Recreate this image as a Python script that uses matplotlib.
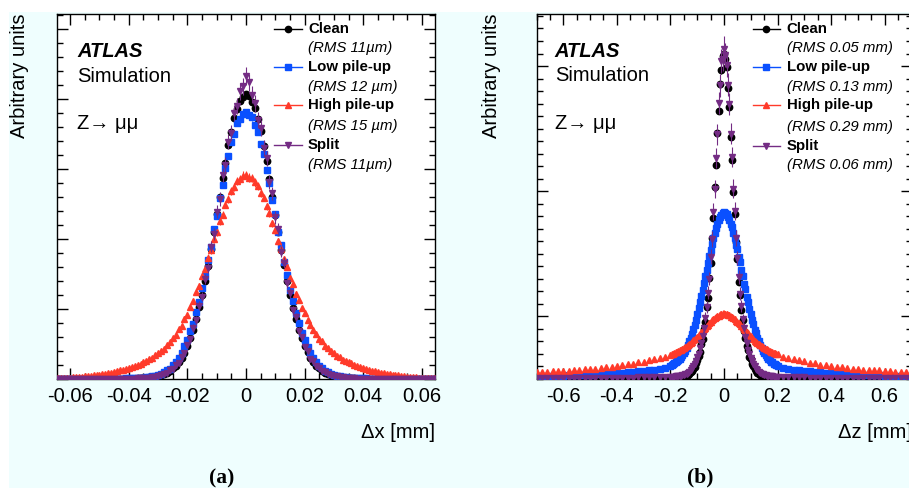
import numpy as np
import matplotlib
matplotlib.use("Agg")
import matplotlib.pyplot as plt
from matplotlib.ticker import MultipleLocator, FixedLocator, NullFormatter
from matplotlib.patches import Rectangle
from matplotlib.lines import Line2D

plt.rcParams['font.family'] = ['Liberation Sans', 'DejaVu Sans']

# ---------------- data: panel (a), bins of 0.001 mm from -0.065 to 0.065 ----------------
dx_lo, dx_hi = -0.065, 0.065

clean_a = [0.001,0.001,0.001,0.001,0.001,0.001,0.001,0.001,0.001,0.001,0.001,0.002,0.001,0.002,0.002,0.002,0.002,0.002,0.002,0.003,0.002,0.003,0.003,0.003,0.004,
           0.004,0.005,0.006,0.008,0.010,0.013,0.017,0.022,0.027,0.035,0.044,0.056,0.071,0.091,0.118,0.151,0.188,0.236,0.301,0.377,
           0.468,0.582,0.707,0.858,1.025,1.196,1.404,1.615,1.857,2.094,2.356,2.597,2.866,3.092,3.338,3.533,3.725,3.852,3.975,4.026,
           4.07,
           4.038,3.962,3.868,3.714,3.547,3.322,3.108,2.852,2.607,2.343,2.106,1.843,1.627,1.396,1.205,1.016,0.864,0.706,0.584,0.466,
           0.382,0.297,0.242,0.188,0.152,0.117,0.092,0.069,0.056,0.042,0.035,0.026,0.021,0.016,0.013,0.010,0.008,0.006,0.005,0.004,
           0.004,0.003,0.003,0.003,0.002,0.003,0.002,0.002,0.002,0.002,0.002,0.001,0.002,0.001,0.001,0.001,0.001,0.001,0.001,0.001,0.001,0.001,0.001,0.001,0.001]

lowpu_a = [0.002,0.002,0.002,0.002,0.002,0.002,0.003,0.002,0.003,0.003,0.003,0.003,0.004,0.003,0.004,0.004,0.005,0.004,0.005,0.005,0.006,0.006,0.007,0.007,0.008,
           0.009,0.011,0.012,0.015,0.017,0.021,0.025,0.032,0.038,0.049,0.059,0.077,0.094,0.123,0.148,0.194,0.237,0.306,0.366,0.468,
           0.553,0.680,0.792,0.962,1.098,1.305,1.466,1.706,1.884,2.138,2.332,2.588,2.771,3.018,3.184,3.388,3.505,3.656,3.718,3.790,
           3.81,
           3.772,3.738,3.628,3.531,3.356,3.212,2.984,2.803,2.553,2.362,2.104,1.912,1.676,1.491,1.277,1.118,0.941,0.806,0.662,0.564,
           0.454,0.374,0.296,0.243,0.187,0.152,0.118,0.096,0.074,0.061,0.047,0.038,0.030,0.025,0.020,0.017,0.014,0.012,0.010,0.009,
           0.008,0.007,0.007,0.006,0.006,0.005,0.005,0.004,0.005,0.004,0.004,0.003,0.004,0.003,0.003,0.003,0.003,0.002,0.003,0.002,0.002,0.002,0.002,0.002,0.002]

highpu_a = [0.012,0.011,0.015,0.016,0.019,0.020,0.024,0.025,0.029,0.032,0.036,0.040,0.045,0.050,0.056,0.061,0.069,0.074,0.083,0.091,0.102,0.110,0.123,0.131,0.144,
            0.157,0.174,0.186,0.205,0.217,0.244,0.256,0.285,0.306,0.345,0.366,0.406,0.435,0.488,0.524,0.589,0.632,0.711,0.762,0.861,
            0.921,1.034,1.108,1.242,1.328,1.474,1.578,1.733,1.838,1.994,2.098,2.253,2.349,2.492,2.571,2.683,2.741,2.831,2.852,2.905,
            2.91,
            2.878,2.872,2.808,2.762,2.655,2.592,2.466,2.372,2.226,2.124,1.966,1.862,1.708,1.602,1.448,1.352,1.218,1.131,1.008,0.939,
            0.842,0.776,0.693,0.646,0.573,0.536,0.474,0.445,0.396,0.374,0.335,0.314,0.276,0.263,0.236,0.222,0.196,0.192,0.166,0.162,
            0.138,0.132,0.117,0.112,0.098,0.092,0.079,0.075,0.066,0.061,0.053,0.050,0.043,0.040,0.034,0.032,0.027,0.026,0.021,0.020,0.017,0.016,0.013,0.012,0.010]

split_a = [0.001,0.001,0.001,0.001,0.001,0.001,0.001,0.001,0.001,0.001,0.001,0.002,0.001,0.002,0.002,0.002,0.002,0.002,0.002,0.003,0.002,0.003,0.003,0.003,0.004,
           0.004,0.006,0.005,0.009,0.011,0.012,0.019,0.020,0.029,0.033,0.047,0.052,0.075,0.088,0.124,0.145,0.196,0.229,0.312,0.368,
           0.481,0.571,0.728,0.842,1.046,1.178,1.432,1.590,1.890,2.066,2.392,2.570,2.910,3.060,3.390,3.520,3.800,3.900,4.110,4.180,
           4.33,
           4.240,4.060,3.940,3.700,3.590,3.300,3.150,2.820,2.650,2.310,2.140,1.820,1.660,1.370,1.230,0.990,0.890,0.690,0.600,0.455,
           0.395,0.290,0.250,0.182,0.158,0.112,0.096,0.066,0.058,0.040,0.036,0.025,0.022,0.015,0.014,0.009,0.009,0.006,0.005,0.004,
           0.004,0.003,0.003,0.003,0.002,0.003,0.002,0.002,0.002,0.002,0.002,0.001,0.002,0.001,0.001,0.001,0.001,0.001,0.001,0.001,0.001,0.001,0.001,0.001,0.001]

# ---------------- data: panel (b), 0.02 mm bins in tails, 0.005 mm bins in core ----------------
dz_tail_left = np.round(np.arange(-0.70, -0.219, 0.02), 3)
dz_core = np.round(np.arange(-0.200, 0.2001, 0.005), 3)
dz_tail_right = np.round(np.arange(0.22, 0.701, 0.02), 3)

clean_b = [0.001,0.001,0.001,0.001,0.001,0.001,0.001,0.001,0.001,0.001,0.001,0.001,0.001,0.001,0.001,0.001,0.001,0.001,0.001,0.001,0.002,0.001,0.002,0.002,0.002,
           0.002,0.002,0.002,0.002,0.003,0.003,0.004,0.005,0.007,0.009,0.012,0.017,0.021,0.030,0.036,0.049,0.061,0.080,0.096,0.124,
           0.147,0.184,0.216,0.276,0.314,0.398,0.452,0.571,0.648,0.803,0.925,1.128,1.282,1.530,1.712,1.968,2.142,2.355,2.466,2.583,
           2.60,
           2.555,2.492,2.326,2.172,1.934,1.745,1.492,1.318,1.093,0.955,0.775,0.672,0.548,0.470,0.382,0.327,0.264,0.225,0.176,0.153,
           0.118,0.100,0.076,0.063,0.047,0.038,0.028,0.022,0.016,0.012,0.009,0.007,0.005,0.004,0.003,0.003,0.002,0.002,0.002,0.002,
           0.002,0.002,0.001,0.002,0.001,0.001,0.001,0.001,0.001,0.001,0.001,0.001,0.001,0.001,0.001,0.001,0.001,0.001,0.001,0.001,0.001,0.001,0.001,0.001,0.001]

lowpu_b = [0.017,0.018,0.019,0.020,0.022,0.023,0.025,0.026,0.028,0.030,0.032,0.034,0.037,0.039,0.042,0.045,0.048,0.051,0.055,0.058,0.063,0.067,0.072,0.078,0.088,
           0.103,0.108,0.114,0.121,0.129,0.137,0.148,0.159,0.173,0.188,0.205,0.224,0.246,0.271,0.297,0.326,0.359,0.394,0.432,0.472,
           0.515,0.561,0.609,0.659,0.711,0.764,0.818,0.872,0.925,0.978,1.030,1.078,1.124,1.167,1.206,1.240,1.270,1.294,1.312,1.324,
           1.33,
           1.322,1.315,1.290,1.272,1.236,1.210,1.162,1.128,1.072,1.034,0.972,0.930,0.866,0.823,0.758,0.716,0.653,0.614,0.556,0.519,
           0.468,0.436,0.390,0.362,0.323,0.299,0.268,0.248,0.222,0.206,0.187,0.174,0.158,0.149,0.136,0.129,0.120,0.114,0.107,0.103,
           0.087,0.078,0.071,0.067,0.062,0.059,0.054,0.051,0.048,0.044,0.042,0.039,0.036,0.034,0.032,0.030,0.028,0.026,0.025,0.023,0.021,0.020,0.019,0.018,0.016]

highpu_b = [0.051,0.053,0.054,0.057,0.060,0.062,0.064,0.066,0.070,0.074,0.077,0.080,0.086,0.090,0.094,0.101,0.106,0.114,0.120,0.129,0.136,0.147,0.154,0.166,0.174,
            0.192,0.198,0.200,0.206,0.209,0.216,0.219,0.227,0.231,0.239,0.244,0.253,0.259,0.269,0.276,0.287,0.294,0.306,0.314,0.327,
            0.336,0.349,0.359,0.373,0.383,0.397,0.407,0.421,0.430,0.444,0.452,0.465,0.473,0.484,0.490,0.499,0.504,0.511,0.514,0.519,
            0.52,
            0.516,0.517,0.508,0.507,0.496,0.493,0.481,0.476,0.462,0.455,0.441,0.433,0.419,0.409,0.395,0.386,0.371,0.361,0.347,0.338,
            0.325,0.316,0.304,0.296,0.285,0.278,0.267,0.261,0.251,0.246,0.237,0.233,0.225,0.221,0.214,0.211,0.204,0.202,0.196,0.194,
            0.176,0.164,0.156,0.145,0.138,0.127,0.122,0.112,0.108,0.099,0.096,0.089,0.086,0.080,0.078,0.072,0.071,0.066,0.065,0.061,0.060,0.056,0.055,0.051,0.051]

split_b = [0.002,0.003,0.003,0.003,0.003,0.004,0.003,0.004,0.004,0.005,0.005,0.005,0.006,0.006,0.006,0.007,0.007,0.008,0.008,0.009,0.009,0.010,0.011,0.011,0.012,
           0.015,0.015,0.016,0.016,0.017,0.018,0.019,0.021,0.023,0.026,0.030,0.034,0.040,0.047,0.056,0.066,0.081,0.097,0.118,0.139,
           0.170,0.198,0.242,0.285,0.344,0.401,0.487,0.571,0.688,0.798,0.975,1.118,1.335,1.515,1.765,1.955,2.205,2.345,2.540,2.560,
           2.64,
           2.585,2.510,2.350,2.195,1.960,1.770,1.520,1.340,1.125,0.965,0.812,0.680,0.580,0.478,0.408,0.334,0.288,0.232,0.198,0.162,
           0.140,0.115,0.097,0.080,0.068,0.055,0.047,0.040,0.034,0.029,0.026,0.023,0.021,0.019,0.018,0.017,0.016,0.015,0.015,0.014,
           0.012,0.011,0.010,0.010,0.009,0.008,0.008,0.008,0.007,0.007,0.006,0.006,0.005,0.005,0.005,0.004,0.004,0.004,0.004,0.003,0.003,0.003,0.003,0.003,0.002]

labels = ["Clean", "Low pile-up", "High pile-up", "Split"]
rms_a = ["(RMS 11\u00b5m)", "(RMS 12 \u00b5m)", "(RMS 15 \u00b5m)", "(RMS 11\u00b5m)"]
rms_b = ["(RMS 0.05 mm)", "(RMS 0.13 mm)", "(RMS 0.29 mm)", "(RMS 0.06 mm)"]
xticks_a = [-0.06, -0.04, -0.02, 0, 0.02, 0.04, 0.06]
xticklabels_a = ["-0.06", "-0.04", "-0.02", "0", "0.02", "0.04", "0.06"]
xticks_b = [-0.6, -0.4, -0.2, 0, 0.2, 0.4, 0.6]
xticklabels_b = ["-0.6", "-0.4", "-0.2", "0", "0.2", "0.4", "0.6"]

# ---------------- styles ----------------
colors = ["#000000", "#0a50ff", "#ff3a2a", "#742c84"]
markers = ["o", "s", "^", "v"]
err_scale = [0.02, 0.025, 0.035, 0.06]

W, H = 909, 488
fig = plt.figure(figsize=(W / 100, H / 100), dpi=100)
fig.patch.set_facecolor("white")
fig.add_artist(Rectangle((9 / W, 0), 1 - 9 / W, (H - 12) / H, transform=fig.transFigure,
                         facecolor="#effefe", edgecolor="none", zorder=-10))

ax_a = fig.add_axes([57 / W, (H - 379) / H, 378 / W, 365 / H])
ax_b = fig.add_axes([536.5 / W, (H - 378.5) / H, 375 / W, 364.5 / H])

x_a = np.linspace(dx_lo, dx_hi, len(clean_a))
x_b = np.concatenate([dz_tail_left, dz_core, dz_tail_right])

series_a = [clean_a, lowpu_a, highpu_a, split_a]
series_b = [clean_b, lowpu_b, highpu_b, split_b]

for ax, series, xx in [(ax_a, series_a, x_a), (ax_b, series_b, x_b)]:
    for i, y in enumerate(series):
        y = np.asarray(y, dtype=float)
        xs = np.linspace(xx[0], xx[-1], len(y)) if len(y) != len(xx) else xx
        err = err_scale[i] * np.sqrt(y)
        ax.errorbar(xs, y, yerr=err, fmt=markers[i], ms=4.6, color=colors[i],
                    mec=colors[i], mfc=colors[i], elinewidth=0.8, capsize=0,
                    ls="none", zorder=3 + i)

ax_a.set_xlim(-0.0645, 0.0645)
ax_a.set_ylim(0, 5.214)
ax_b.set_xlim(-0.70, 0.70)
ax_b.set_ylim(0, 2.916)

ax_a.xaxis.set_major_locator(FixedLocator(xticks_a))
ax_a.set_xticklabels(xticklabels_a)
ax_a.xaxis.set_minor_locator(MultipleLocator(0.005))
ax_a.yaxis.set_major_locator(MultipleLocator(1.0))
ax_a.yaxis.set_minor_locator(MultipleLocator(0.2))

ax_b.xaxis.set_major_locator(FixedLocator(xticks_b))
ax_b.set_xticklabels(xticklabels_b)
ax_b.xaxis.set_minor_locator(MultipleLocator(0.05))
ax_b.yaxis.set_major_locator(FixedLocator([0.5, 1.5, 2.5]))
ax_b.yaxis.set_minor_locator(MultipleLocator(0.1))

for ax in (ax_a, ax_b):
    ax.set_facecolor("white")
    for s in ax.spines.values():
        s.set_linewidth(1.0)
        s.set_color("black")
    ax.tick_params(which="both", direction="in", top=True, right=True,
                   labelleft=False, labelsize=14.5, pad=6, width=1.0)
    ax.tick_params(which="major", length=8)
    ax.tick_params(which="minor", length=4)
    ax.yaxis.set_minor_formatter(NullFormatter())
    ax.text(0.053 if ax is ax_a else 0.049, 0.896, "ATLAS", transform=ax.transAxes,
            fontsize=14.5, fontweight="bold", fontstyle="italic", ha="left", va="center")
    ax.text(0.053 if ax is ax_a else 0.049, 0.830, "Simulation", transform=ax.transAxes,
            fontsize=14.5, ha="left", va="center")
    ax.text(0.053 if ax is ax_a else 0.049, 0.699, "Z\u2192 \u03bc\u03bc", transform=ax.transAxes,
            fontsize=14.5, ha="left", va="center")

ax_a.text(1.0, -0.147, "\u0394x [mm]", transform=ax_a.transAxes, fontsize=14.5, ha="right", va="center")
ax_b.text(1.0, -0.149, "\u0394z [mm]", transform=ax_b.transAxes, fontsize=14.5, ha="right", va="center")
ax_a.text(-0.098, 1.0, "Arbitrary units", transform=ax_a.transAxes, fontsize=14.5,
          rotation=90, ha="center", va="top")
ax_b.text(-0.119, 1.0, "Arbitrary units", transform=ax_b.transAxes, fontsize=14.5,
          rotation=90, ha="center", va="top")

# legends
def draw_legend(ax, x0, x1, xt, rows, rms):
    for i in range(4):
        yl = rows[2 * i]
        ax.add_line(Line2D([x0, x1], [yl, yl], transform=ax.transAxes, color=colors[i],
                           lw=1.0, clip_on=False, zorder=10))
        ax.add_line(Line2D([(x0 + x1) / 2], [yl], transform=ax.transAxes, color=colors[i],
                           marker=markers[i], ms=4.5, clip_on=False, zorder=11))
        ax.text(xt, yl, labels[i], transform=ax.transAxes, fontsize=10.8,
                fontweight="bold", ha="left", va="center", zorder=12)
        ax.text(xt, rows[2 * i + 1], rms[i], transform=ax.transAxes, fontsize=10.8,
                fontstyle="italic", ha="left", va="center", zorder=12)

draw_legend(ax_a, 0.574, 0.648, 0.664, [0.959, 0.907, 0.855, 0.800, 0.751, 0.693, 0.641, 0.586], rms_a)
draw_legend(ax_b, 0.5765, 0.649, 0.667, [0.959, 0.907, 0.855, 0.800, 0.749, 0.691, 0.639, 0.585], rms_b)

fig.text(221.7 / W, (H - 478) / H, "(a)", fontsize=15.5, fontweight="bold",
         family=["Liberation Serif", "DejaVu Serif"], ha="center", va="center")
fig.text(700.7 / W, (H - 477.7) / H, "(b)", fontsize=15.5, fontweight="bold",
         family=["Liberation Serif", "DejaVu Serif"], ha="center", va="center")

fig.savefig("out.png", dpi=100, facecolor=fig.get_facecolor())
